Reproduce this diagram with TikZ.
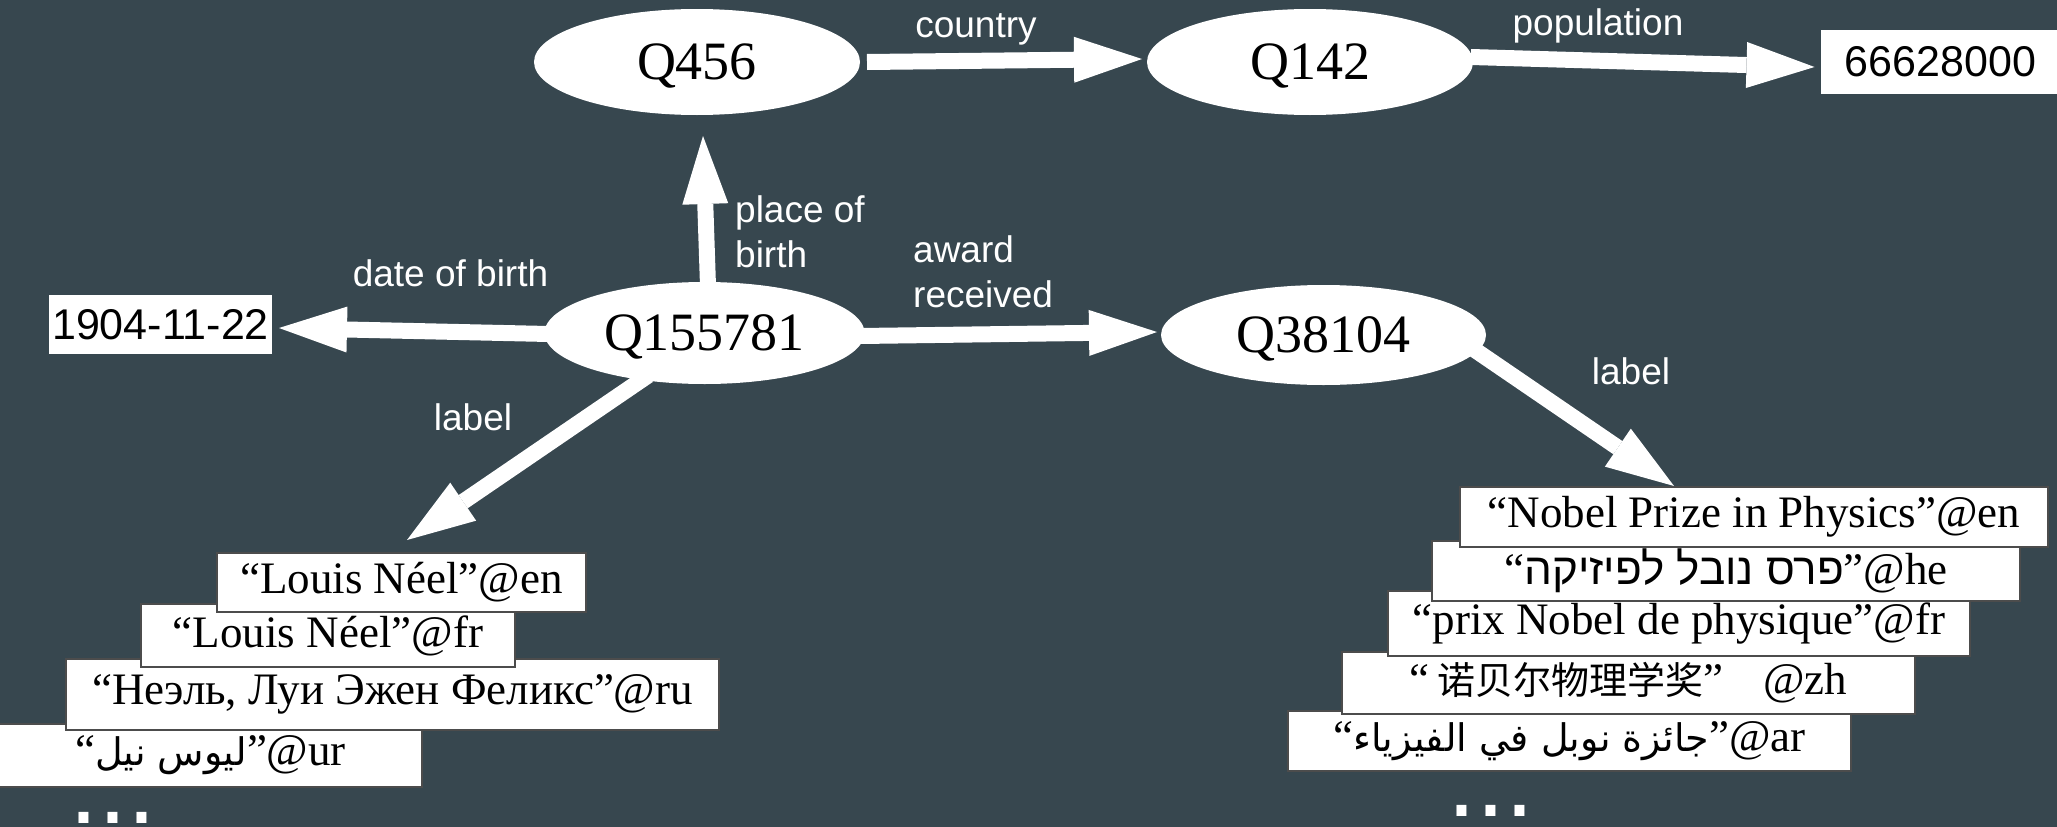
\documentclass[tikz,border=0pt]{standalone}
\usepackage{fontspec}
\setmainfont{Liberation Serif}
\setsansfont{Liberation Sans}
\newfontfamily\hebfont[Script=Hebrew]{Liberation Sans}
\newfontfamily\arabfont[Script=Arabic]{DejaVu Sans}
\newfontfamily\cjkfont{Noto Sans CJK SC}
\TeXXeTstate=1
\usetikzlibrary{shapes.geometric,arrows.meta,calc}
\definecolor{bg}{RGB}{55,71,79}
\tikzset{
 ent/.style={ellipse, fill=white, inner sep=0pt, outer sep=0pt, font=\fontsize{54}{60}\selectfont, text depth=0pt},
 lit/.style={rectangle, fill=white, draw=black!70, line width=1.2pt, inner sep=0pt, outer sep=0pt, font=\fontsize{45}{50}\selectfont},
 val/.style={rectangle, fill=white, inner sep=0pt, outer sep=0pt, font=\sffamily\fontsize{43}{48}\selectfont},
 prop/.style={text=white, inner sep=0pt, font=\sffamily\fontsize{37}{41}\selectfont},
 rel/.style={draw=white, line width=16pt, -{Triangle[length=68pt,width=46pt,line width=0pt]}},
 more/.style={text=white, inner sep=0pt, font=\sffamily\fontsize{104}{110}\selectfont}
}
\begin{document}
\begin{tikzpicture}[x=1pt,y=-1pt]
\useasboundingbox (0,0) rectangle (2057,827);
\fill[bg] (0,0) rectangle (2057,827);

% entities
\node[ent, minimum width=326pt, minimum height=106pt] (q456) at (697,62) {Q456};
\node[ent, minimum width=326pt, minimum height=106pt] (q142) at (1310,62) {Q142};
\node[ent, minimum width=320pt, minimum height=102pt] (q155781) at (704.5,333) {Q155781};
\node[ent, minimum width=325pt, minimum height=100pt] (q38104) at (1323.5,335) {Q38104};

% values
\node[val, minimum width=240pt, minimum height=64pt] (pop) at (1940.5,62) {66628000};
\node[val, minimum width=223pt, minimum height=59pt] (dob) at (160.5,324.5) {1904-11-22};

% left labels (lowest first)
\node[lit, minimum width=423pt, minimum height=63pt] (l4) at (210.5,755.5) {“{\arabfont\fontsize{38}{44}\selectfont\beginR ليوس نيل\endR}”@ur};
\node[lit, minimum width=653pt, minimum height=71pt] (l3) at (392.5,694.5) {“Неэль, Луи Эжен Феликс”@ru};
\node[lit, minimum width=374pt, minimum height=63pt] (l2) at (328,635.5) {“Louis Néel”@fr};
\node[lit, minimum width=369pt, minimum height=59pt] (l1) at (401.5,582.5) {“Louis Néel”@en};

% right labels (lowest first)
\node[lit, minimum width=563pt, minimum height=60pt] (r5) at (1569.5,741) {“{\arabfont\fontsize{38}{44}\selectfont\beginR جائزة نوبل في الفيزياء\endR}”@ar};
\node[lit, minimum width=573pt, minimum height=62pt] (r4) at (1628.5,683) {“\,{\cjkfont\fontsize{38}{44}\selectfont 诺贝尔物理学奖}”\hspace{40pt}@zh};
\node[lit, minimum width=582pt, minimum height=65pt] (r3) at (1679,623.5) {“prix Nobel de physique”@fr};
\node[lit, minimum width=588pt, minimum height=60pt] (r2) at (1726,571) {“{\hebfont\fontsize{44}{48}\selectfont\beginR פרס נובל לפיזיקה\endR}”@he};
\node[lit, minimum width=588pt, minimum height=60pt] (r1) at (1754,517) {“Nobel Prize in Physics”@en};

% ellipsis marks
\node[more, anchor=base west] (moreL) at (69,823) {...};
\node[more, anchor=base west] (moreR) at (1447,816) {...};

% property labels
\node[prop, anchor=north west, align=left] (tpob) at (735,195.5) {place of\\[4pt]birth};
\node[prop, anchor=north west, align=left] (taward) at (913,235.5) {award\\[4pt]received};
\node[prop, anchor=base] (tcountry) at (976,37) {country};
\node[prop, anchor=base] (tpop) at (1598,35) {population};
\node[prop, anchor=base] (tdob) at (450.5,286) {date of birth};
\node[prop, anchor=base] (tlabL) at (473,430) {label};
\node[prop, anchor=base] (tlabR) at (1631,384) {label};

% connectors
\draw[rel] ($(q456.east)+(7,0)$) -- ($(q142.west)+(-5,-3)$);
\draw[rel] ($(q142.east)+(-2,-5)$) -- ($(pop.west)+(-6,5)$);
\draw[rel] ($(q155781.north)+(3.5,4)$) -- ($(q456.south)+(6,21)$);
\draw[rel] ($(q155781.west)+(4,1)$) -- ($(dob.east)+(7,3.5)$);
\draw[rel] ($(q155781.east)+(-4,3)$) -- ($(q38104.west)+(-4,-3)$);
\draw[rel] ($(q155781.center)!0.9!(q155781.217)$) -- ($(l1.north)+(5.5,-13)$);
\draw[rel] ($(q38104.center)!0.95!(q38104.-5)$) -- ($(r1.north)+(-80,-1)$);
\end{tikzpicture}
\end{document}
